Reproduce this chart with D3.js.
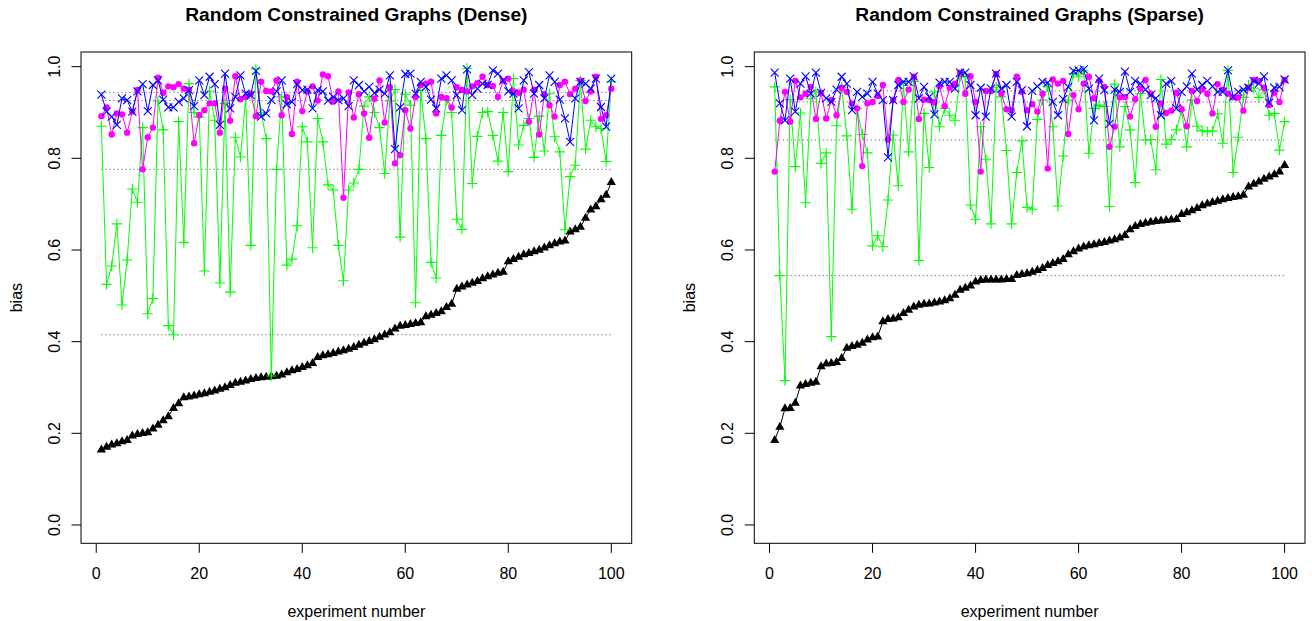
<!DOCTYPE html>
<html><head><meta charset="utf-8">
<script src="https://cdn.jsdelivr.net/npm/d3@7"></script>
<style>body{margin:0;background:#fff}svg{display:block}text{font-family:"Liberation Sans",Arial,Helvetica,sans-serif}</style>
</head><body><svg id="c" width="1312" height="621"></svg>
<script>
const experiments = d3.range(1, 101);
const xTicks = [0, 20, 40, 60, 80, 100];
const yTicks = [0, 0.2, 0.4, 0.6, 0.8, 1.0];
const titles = ["Random Constrained Graphs (Dense)", "Random Constrained Graphs (Sparse)"];

const denseBlack = [0.164,0.17,0.175,0.178,0.182,0.185,0.195,0.198,0.2,0.202,
0.21,0.218,0.228,0.237,0.255,0.265,0.278,0.28,0.282,0.285,
0.287,0.29,0.293,0.297,0.3,0.305,0.31,0.312,0.315,0.318,
0.32,0.322,0.323,0.324,0.325,0.328,0.333,0.337,0.34,0.344,
0.348,0.353,0.366,0.37,0.372,0.375,0.378,0.381,0.384,0.388,
0.393,0.397,0.401,0.405,0.41,0.415,0.42,0.428,0.434,0.436,
0.438,0.44,0.442,0.455,0.458,0.462,0.466,0.475,0.482,0.515,
0.52,0.524,0.528,0.532,0.538,0.542,0.546,0.55,0.552,0.575,
0.58,0.585,0.59,0.593,0.597,0.6,0.605,0.61,0.614,0.618,
0.62,0.64,0.645,0.65,0.67,0.688,0.695,0.71,0.72,0.748];
const denseGreen = [0.87,0.525,0.565,0.657,0.48,0.578,0.733,0.704,0.867,0.461,
0.494,0.925,0.862,0.435,0.415,0.88,0.616,0.963,0.90,0.89,
0.554,0.947,0.883,0.528,0.92,0.508,0.846,0.803,0.93,0.61,
0.995,0.90,0.843,0.325,0.776,0.934,0.567,0.58,0.653,0.869,
0.836,0.605,0.887,0.836,0.742,0.731,0.61,0.533,0.731,0.746,
0.776,0.914,0.934,0.90,0.867,0.767,0.925,0.95,0.628,0.94,
0.916,0.485,0.949,0.843,0.573,0.539,0.85,0.927,0.90,0.667,
0.645,0.996,0.745,0.848,0.90,0.902,0.85,0.794,0.90,0.771,
0.974,0.829,0.872,0.887,0.802,0.892,0.816,0.941,0.847,0.814,
0.644,0.76,0.785,0.97,0.82,0.883,0.869,0.865,0.793,0.967];
const denseMagenta = [0.892,0.911,0.852,0.898,0.896,0.856,0.902,0.949,0.776,0.846,
0.867,0.976,0.943,0.957,0.955,0.962,0.952,0.95,0.833,0.894,
0.905,0.92,0.92,0.856,0.952,0.882,0.979,0.929,0.934,0.941,
0.892,0.967,0.947,0.946,0.97,0.894,0.934,0.853,0.967,0.903,
0.946,0.957,0.926,0.983,0.979,0.924,0.946,0.714,0.944,0.889,
0.94,0.898,0.845,0.93,0.97,0.878,0.955,0.789,0.807,0.905,
0.865,0.934,0.96,0.963,0.967,0.898,0.934,0.931,0.911,0.955,
0.949,0.946,0.957,0.964,0.978,0.96,0.958,0.934,0.969,0.974,
0.946,0.943,0.95,0.88,0.95,0.852,0.94,0.916,0.891,0.96,
0.967,0.94,0.952,0.97,0.925,0.946,0.978,0.886,0.894,0.952];
const denseBlue = [0.939,0.902,0.891,0.873,0.931,0.927,0.902,0.946,0.962,0.903,
0.96,0.97,0.928,0.911,0.911,0.923,0.931,0.949,0.914,0.97,
0.938,0.978,0.962,0.873,0.985,0.909,0.934,0.981,0.941,0.938,
0.991,0.891,0.898,0.927,0.946,0.97,0.918,0.923,0.962,0.949,
0.95,0.909,0.949,0.946,0.926,0.934,0.927,0.931,0.914,0.97,
0.96,0.946,0.956,0.943,0.95,0.941,0.981,0.82,0.911,0.984,
0.985,0.941,0.967,0.956,0.928,0.909,0.974,0.981,0.97,0.938,
0.905,0.994,0.938,0.952,0.963,0.96,0.992,0.985,0.97,0.946,
0.941,0.909,0.97,0.988,0.941,0.96,0.931,0.981,0.967,0.928,
0.887,0.836,0.931,0.967,0.963,0.952,0.974,0.912,0.869,0.974];
const denseMeans = [0.944, 0.926, 0.776, 0.415];

const sparseBlack = [0.185,0.214,0.254,0.255,0.266,0.304,0.307,0.31,0.312,0.346,
0.352,0.353,0.355,0.364,0.386,0.39,0.393,0.397,0.404,0.409,
0.411,0.444,0.449,0.45,0.453,0.462,0.469,0.476,0.48,0.482,
0.483,0.485,0.487,0.49,0.494,0.502,0.513,0.517,0.522,0.531,
0.534,0.535,0.535,0.535,0.535,0.536,0.536,0.545,0.547,0.549,
0.552,0.556,0.56,0.567,0.571,0.575,0.58,0.59,0.597,0.603,
0.607,0.61,0.612,0.615,0.617,0.62,0.623,0.627,0.632,0.645,
0.652,0.656,0.659,0.661,0.663,0.664,0.665,0.666,0.667,0.678,
0.682,0.686,0.691,0.697,0.701,0.704,0.707,0.71,0.713,0.715,
0.717,0.72,0.738,0.744,0.749,0.755,0.76,0.765,0.771,0.785];
const sparseGreen = [0.956,0.544,0.315,0.928,0.782,0.899,0.703,0.93,0.945,0.789,
0.812,0.411,0.871,0.955,0.849,0.689,0.909,0.852,0.812,0.609,
0.631,0.607,0.709,0.851,0.74,0.96,0.814,0.968,0.577,0.898,
0.78,0.945,0.869,0.909,0.894,0.882,0.978,0.978,0.698,0.667,
0.869,0.798,0.657,0.955,0.934,0.817,0.657,0.769,0.838,0.693,
0.689,0.885,0.927,0.956,0.869,0.696,0.805,0.927,0.985,0.978,
0.991,0.811,0.909,0.916,0.913,0.695,0.962,0.825,0.913,0.862,
0.747,0.941,0.84,0.841,0.775,0.972,0.831,0.841,0.862,0.905,
0.825,0.927,0.87,0.86,0.858,0.86,0.897,0.833,0.992,0.769,
0.846,0.933,0.96,0.953,0.933,0.95,0.894,0.898,0.818,0.88];
const sparseMagenta = [0.771,0.882,0.945,0.88,0.969,0.933,0.941,0.956,0.886,0.943,
0.887,0.927,0.894,0.954,0.945,0.92,0.909,0.783,0.92,0.923,
0.936,0.96,0.841,0.927,0.971,0.923,0.95,0.978,0.886,0.928,
0.927,0.922,0.957,0.914,0.954,0.963,0.987,0.941,0.979,0.923,
0.771,0.947,0.947,0.984,0.941,0.907,0.905,0.978,0.945,0.905,
0.918,0.902,0.941,0.778,0.972,0.963,0.969,0.853,0.938,0.907,
0.963,0.978,0.931,0.969,0.956,0.825,0.869,0.933,0.934,0.891,
0.929,0.952,0.971,0.941,0.869,0.92,0.899,0.904,0.943,0.907,
0.87,0.947,0.925,0.95,0.941,0.898,0.962,0.95,0.941,0.933,
0.933,0.904,0.954,0.971,0.969,0.954,0.916,0.943,0.923,0.971];
const sparseBlue = [0.987,0.92,0.883,0.974,0.902,0.963,0.979,0.941,0.987,0.943,
0.931,0.923,0.95,0.978,0.963,0.905,0.945,0.934,0.941,0.967,
0.941,0.927,0.802,0.927,0.96,0.967,0.967,0.979,0.931,0.956,
0.934,0.896,0.965,0.967,0.967,0.952,0.987,0.987,0.96,0.894,
0.954,0.891,0.952,0.985,0.952,0.96,0.891,0.967,0.949,0.87,
0.947,0.957,0.967,0.965,0.923,0.894,0.929,0.956,0.991,0.992,
0.994,0.952,0.883,0.974,0.949,0.875,0.95,0.945,0.989,0.945,
0.969,0.963,0.95,0.938,0.931,0.894,0.963,0.969,0.909,0.945,
0.957,0.985,0.95,0.96,0.969,0.957,0.945,0.945,0.992,0.934,
0.945,0.95,0.954,0.969,0.963,0.979,0.921,0.954,0.956,0.972];
const sparseMeans = [0.947, 0.923, 0.84, 0.544];

const panels = [
  {title: titles[0], left: 81, black: denseBlack, green: denseGreen, magenta: denseMagenta, blue: denseBlue, means: denseMeans},
  {title: titles[1], left: 754.3, black: sparseBlack, green: sparseGreen, magenta: sparseMagenta, blue: sparseBlue, means: sparseMeans}
];

const svg = d3.select("#c");
const boxW = 550.7, boxTop = 52, boxBottom = 543.3;
const fmt = d3.format(".1f");

const shapes = {
  tri: "M0,-5.2L4.6,2.8L-4.6,2.8Z",
  plus: "M-5.2,0H5.2M0,-5.2V5.2",
  cross: "M-4,-4L4,4M-4,4L4,-4"
};

panels.forEach(p => {
  const g = svg.append("g");
  const x = d3.scaleLinear().domain([-2.96, 103.96]).range([p.left, p.left + boxW]);
  const y = d3.scaleLinear().domain([-0.04, 1.032]).range([boxBottom, boxTop]);

  p.means.forEach(m => {
    g.append("line").attr("x1", x(1)).attr("x2", x(100)).attr("y1", y(m)).attr("y2", y(m))
      .attr("stroke", "#444").attr("stroke-width", 1).attr("stroke-dasharray", "1,3");
  });

  const line = d3.line().x((d, i) => x(experiments[i])).y(d => y(d));

  function series(vals, color, kind) {
    g.append("path").attr("d", line(vals)).attr("fill", "none").attr("stroke", color).attr("stroke-width", 1);
    const pts = g.append("g");
    vals.forEach((v, i) => {
      const cx = x(experiments[i]), cy = y(v);
      if (kind === "circle") {
        pts.append("circle").attr("cx", cx).attr("cy", cy).attr("r", 3.2).attr("fill", color);
      } else if (kind === "tri") {
        pts.append("path").attr("d", shapes.tri).attr("transform", `translate(${cx},${cy})`).attr("fill", color);
      } else {
        pts.append("path").attr("d", shapes[kind]).attr("transform", `translate(${cx},${cy})`)
          .attr("fill", "none").attr("stroke", color).attr("stroke-width", 1.1);
      }
    });
  }
  series(p.black, "#000000", "tri");
  series(p.green, "#00FF00", "plus");
  series(p.magenta, "#FF00FF", "circle");
  series(p.blue, "#0000FF", "cross");

  g.append("rect").attr("x", p.left).attr("y", boxTop).attr("width", boxW).attr("height", boxBottom - boxTop)
    .attr("fill", "none").attr("stroke", "#000").attr("stroke-width", 1);

  xTicks.forEach(t => {
    g.append("line").attr("x1", x(t)).attr("x2", x(t)).attr("y1", boxBottom).attr("y2", boxBottom + 9.5).attr("stroke", "#000");
    g.append("text").attr("x", x(t)).attr("y", 579).attr("text-anchor", "middle").attr("font-size", 16).text(t);
  });
  yTicks.forEach(t => {
    g.append("line").attr("x1", p.left).attr("x2", p.left - 9.5).attr("y1", y(t)).attr("y2", y(t)).attr("stroke", "#000");
    g.append("text").attr("transform", `translate(${p.left - 21.5},${y(t)}) rotate(-90)`)
      .attr("text-anchor", "middle").attr("font-size", 16).text(fmt(t));
  });

  g.append("text").attr("x", p.left + boxW / 2).attr("y", 617).attr("text-anchor", "middle").attr("font-size", 16).text("experiment number");
  g.append("text").attr("transform", `translate(${p.left - 59.5},${(boxTop + boxBottom) / 2}) rotate(-90)`)
    .attr("text-anchor", "middle").attr("font-size", 16).text("bias");
  g.append("text").attr("x", p.left + boxW / 2).attr("y", 21).attr("text-anchor", "middle")
    .attr("font-size", 19.2).attr("font-weight", "bold").text(p.title);
});
</script></body></html>
